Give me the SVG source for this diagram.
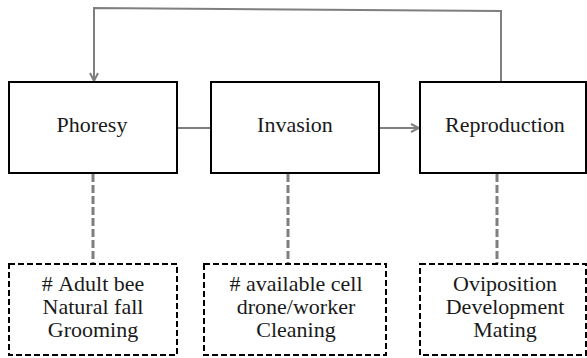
<svg xmlns="http://www.w3.org/2000/svg" width="587" height="358" viewBox="0 0 587 358">
<style>
.box{fill:#fff;stroke:#000;stroke-width:2}
.dbox{fill:#fff;stroke:#000;stroke-width:2;stroke-dasharray:6 3}
.conn{fill:none;stroke:#7f7f7f;stroke-width:2}
.dconn{fill:none;stroke:#7f7f7f;stroke-width:3;stroke-dasharray:8 3}
text{font-family:Tinos,"Liberation Serif","Times New Roman",Times,"Nimbus Roman","FreeSerif","Noto Serif","DejaVu Serif",serif;font-size:22px;fill:#1a1a1a;text-anchor:middle}
</style>
<defs>
<marker id="arr" viewBox="0 0 10 10" refX="9" refY="5" markerWidth="10" markerHeight="10" markerUnits="userSpaceOnUse" orient="auto">
<path d="M1,1 L9,5 L1,9" fill="none" stroke="#7f7f7f" stroke-width="2"/>
</marker>
</defs>
<g id="connectors">
<polyline class="conn" points="501,82 501,11 94,8 94,81" marker-end="url(#arr)"/>
<line class="conn" x1="177" y1="128" x2="211" y2="128"/>
<line class="conn" x1="379" y1="128" x2="419" y2="128" marker-end="url(#arr)"/>
<line class="dconn" x1="93" y1="174" x2="93" y2="264"/>
<line class="dconn" x1="288" y1="174" x2="288" y2="264"/>
<line class="dconn" x1="497" y1="174" x2="497" y2="264"/>
</g>
<g id="phoresy">
<rect class="box" x="9" y="82" width="168" height="91"/>
<text x="92" y="132">Phoresy</text>
</g>
<g id="invasion">
<rect class="box" x="211" y="82" width="168" height="91"/>
<text x="295" y="132">Invasion</text>
</g>
<g id="reproduction">
<rect class="box" x="420" y="82" width="166" height="91"/>
<text x="505" y="132">Reproduction</text>
</g>
<g id="phoresy-factors">
<rect class="dbox" x="9" y="264" width="168" height="91"/>
<text x="93" y="291">#&#160;Adult bee</text>
<text x="93" y="314">Natural fall</text>
<text x="93" y="337">Grooming</text>
</g>
<g id="invasion-factors">
<rect class="dbox" x="204" y="264" width="182" height="91"/>
<text x="296" y="291"># available cell</text>
<text x="296" y="314">drone/worker</text>
<text x="296" y="337">Cleaning</text>
</g>
<g id="reproduction-factors">
<rect class="dbox" x="420" y="264" width="166" height="91"/>
<text x="505" y="291">Oviposition</text>
<text x="505" y="314">Development</text>
<text x="505" y="337">Mating</text>
</g>
</svg>
